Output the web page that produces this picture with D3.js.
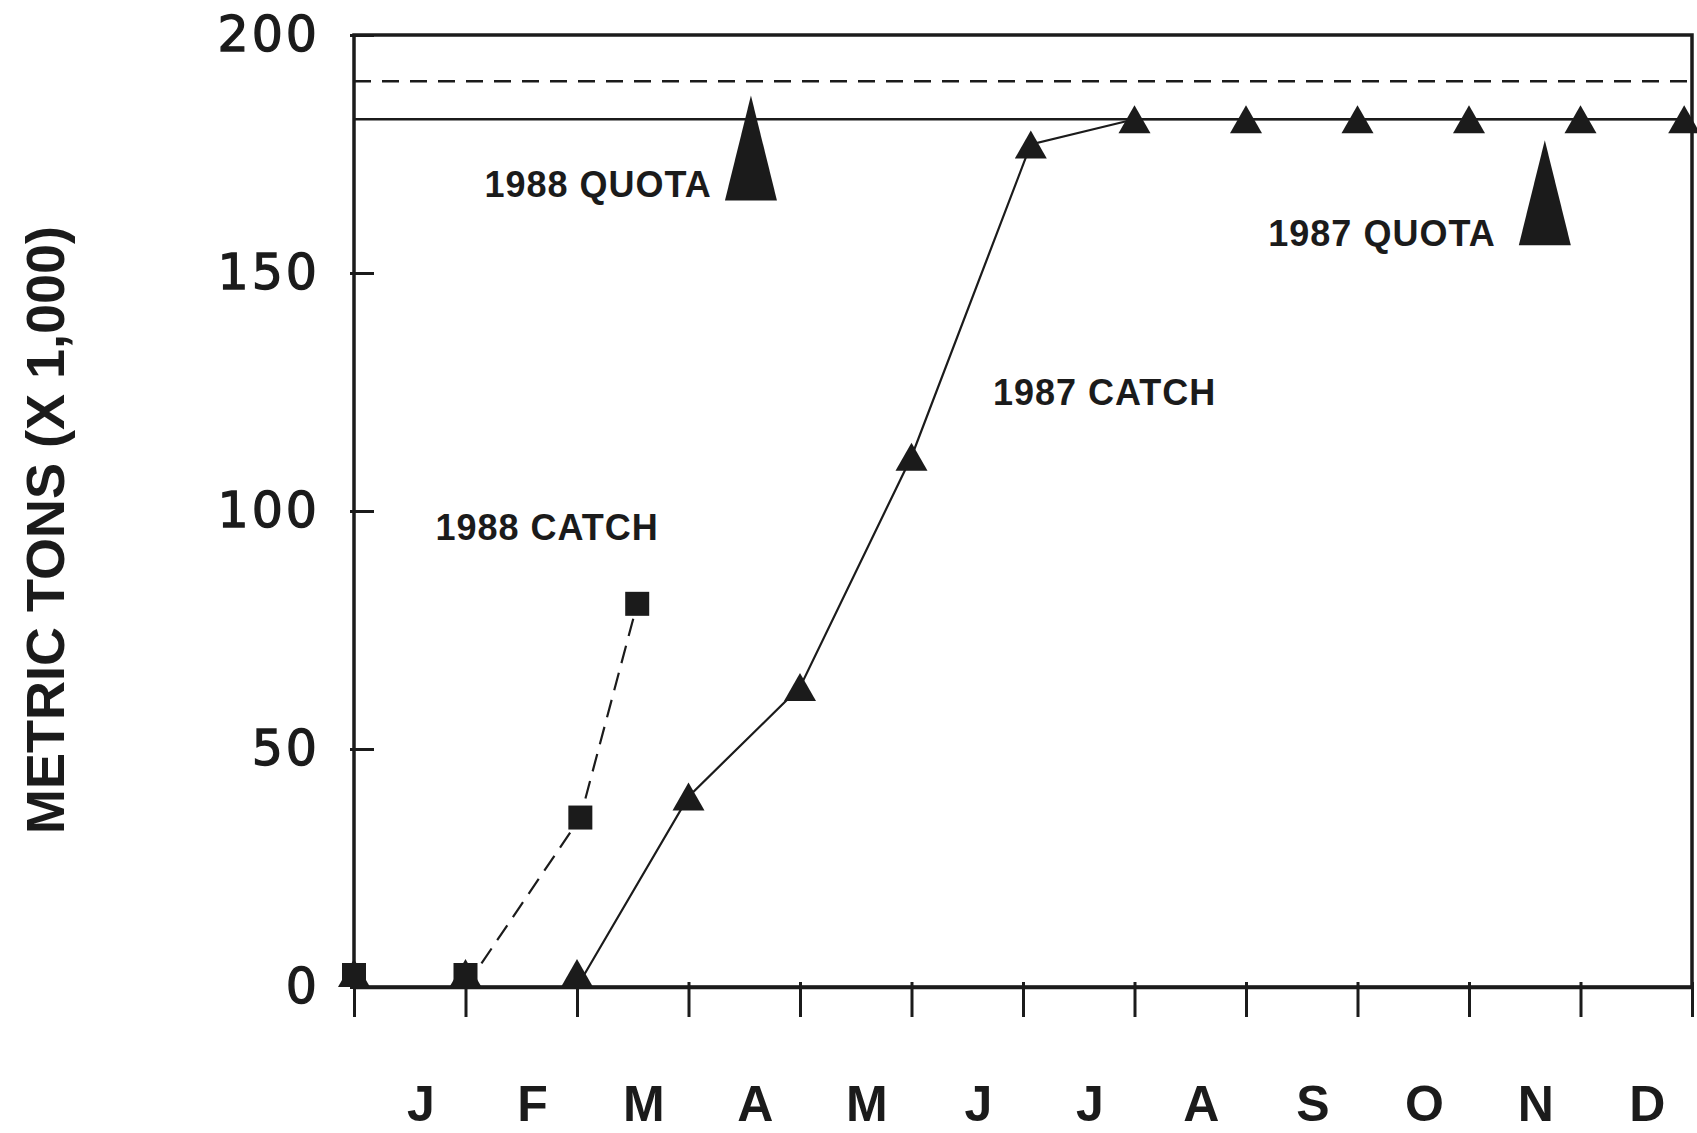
<!DOCTYPE html>
<html>
<head>
<meta charset="utf-8">
<script src="https://cdn.jsdelivr.net/npm/d3@7"></script>
<style>
  html, body { margin: 0; padding: 0; background: #ffffff; }
  svg { display: block; }
</style>
</head>
<body>
<svg id="chart" width="1697" height="1133"></svg>
<script>
// ---------- DATA ----------
const monthLabels = ["J","F","M","A","M","J","J","A","S","O","N","D"];
const monthTicks = [0,1,2,3,4,5,6,7,8,9,10,11,12];
const yTickValues = [0, 50, 100, 150, 200];

// 1987 catch (cumulative, x 1,000 t) — position in months from Jan 1
const catch1987Month = [0, 1, 2, 3, 4, 5, 6.07, 7, 8, 9, 10, 11, 11.93];
const catch1987Value = [0, 0, 0, 40, 63, 111.4, 177, 182.3, 182.3, 182.3, 182.3, 182.3, 182.3];

// 1988 catch
const catch1988Month = [0, 1, 2.03, 2.54];
const catch1988Value = [0, 0, 35.6, 80.5];

// quotas
const quota1987 = 182.3;
const quota1988 = 190.3;

// quota pointer markers (apex position)
const quotaMarkerLabel = ["1988 QUOTA", "1987 QUOTA"];
const quotaMarkerMonth = [3.56, 10.68];
const quotaMarkerValue = [187.3, 177.9];

// text annotations (left edge month, centre value)
const noteText  = ["1988 QUOTA", "1987 QUOTA", "1987 CATCH", "1988 CATCH"];
const noteMonth = [1.17, 8.2, 5.73, 0.73];
const noteValue = [168.6, 158.5, 124.9, 96.7];

// ---------- LAYOUT ----------
const ink = "#1b1b1b";
const plotL = 354, plotR = 1692, plotT = 35, plotB = 987;

const x = d3.scaleLinear().domain([0, 12]).range([plotL, plotR]);
const y = d3.scaleLinear().domain([0, 200]).range([plotB, plotT]);

const svg = d3.select("#chart");

// frame
svg.append("rect")
  .attr("x", plotL).attr("y", plotT)
  .attr("width", plotR - plotL).attr("height", plotB - plotT)
  .attr("fill", "none").attr("stroke", ink).attr("stroke-width", 3.5);

// y axis
const yAxis = d3.axisLeft(y).tickValues(yTickValues)
  .tickSizeInner(-20).tickSizeOuter(0).tickPadding(34).tickFormat(d3.format("d"));
const gy = svg.append("g").attr("transform", `translate(${plotL},0)`).call(yAxis);
gy.select(".domain").remove();
gy.selectAll(".tick line").attr("x1", -4).attr("stroke", ink).attr("stroke-width", 3);
gy.selectAll(".tick text")
  .attr("fill", ink)
  .attr("stroke", ink)
  .attr("stroke-width", 1.3)
  .style("font-family", "'DejaVu Sans', sans-serif")
  .style("font-size", "49px")
  .style("letter-spacing", "3px");

// x axis
const xAxis = d3.axisBottom(x).tickValues(monthTicks).tickSizeInner(30).tickSizeOuter(0).tickFormat("");
const gx = svg.append("g").attr("transform", `translate(0,${plotB})`).call(xAxis);
gx.select(".domain").attr("stroke", ink).attr("stroke-width", 3.5);
gx.selectAll(".tick line").attr("y1", -5).attr("stroke", ink).attr("stroke-width", 3);

// month labels
svg.append("g").selectAll("text").data(monthLabels).join("text")
  .attr("x", (d, i) => x(i + 0.6))
  .attr("y", 1121)
  .attr("text-anchor", "middle")
  .attr("fill", ink)
  .style("font-family", "'Liberation Sans', Arial, sans-serif")
  .style("font-weight", "bold")
  .style("font-size", "50px")
  .text(d => d);

// y axis title
svg.append("text")
  .attr("transform", `translate(64,530) rotate(-90)`)
  .attr("text-anchor", "middle")
  .attr("fill", ink)
  .style("font-family", "'Liberation Sans', Arial, sans-serif")
  .style("font-weight", "bold")
  .style("font-size", "54px")
  .text("METRIC TONS (X 1,000)");

// quota lines
svg.append("line")
  .attr("x1", x(0)).attr("x2", x(12))
  .attr("y1", y(quota1988)).attr("y2", y(quota1988))
  .attr("stroke", ink).attr("stroke-width", 2.5).attr("stroke-dasharray", "17,11");
svg.append("line")
  .attr("x1", x(0)).attr("x2", x(12))
  .attr("y1", y(quota1987)).attr("y2", y(quota1987))
  .attr("stroke", ink).attr("stroke-width", 2.4);

// catch lines
const pts1987 = catch1987Month.map((m, i) => [m, catch1987Value[i]]);
const pts1988 = catch1988Month.map((m, i) => [m, catch1988Value[i]]);
const line = d3.line().x(d => x(d[0])).y(d => y(d[1]));

svg.append("path").attr("d", line(pts1987))
  .attr("fill", "none").attr("stroke", ink).attr("stroke-width", 2.2);
svg.append("path").attr("d", line(pts1988))
  .attr("fill", "none").attr("stroke", ink).attr("stroke-width", 2.2).attr("stroke-dasharray", "18,10");

// markers are kept inside the plot: a marker at zero rests on the axis
const triHalfH = 14, sqHalf = 12;
const markerY = (v, half) => Math.min(y(v), plotB - half);

// triangle markers
svg.append("g").selectAll("path").data(pts1987).join("path")
  .attr("transform", d => `translate(${x(d[0])},${markerY(d[1], triHalfH)})`)
  .attr("d", `M0,${-triHalfH}L16,${triHalfH}L-16,${triHalfH}Z`)
  .attr("fill", ink);

// square markers
svg.append("g").selectAll("rect").data(pts1988).join("rect")
  .attr("x", d => x(d[0]) - sqHalf).attr("y", d => markerY(d[1], sqHalf) - sqHalf)
  .attr("width", sqHalf * 2).attr("height", sqHalf * 2)
  .attr("fill", ink);

// quota pointer triangles
svg.append("g").selectAll("path").data(quotaMarkerMonth).join("path")
  .attr("transform", (d, i) => `translate(${x(d)},${y(quotaMarkerValue[i])})`)
  .attr("d", "M0,0L26,105L-26,105Z")
  .attr("fill", ink);

// annotations
svg.append("g").selectAll("text").data(noteText).join("text")
  .attr("x", (d, i) => x(noteMonth[i]))
  .attr("y", (d, i) => y(noteValue[i]))
  .attr("dy", "0.36em")
  .attr("fill", ink)
  .style("font-family", "'Liberation Sans', Arial, sans-serif")
  .style("font-weight", "bold")
  .style("font-size", "36px")
  .style("letter-spacing", "1px")
  .text(d => d);
</script>
</body>
</html>
